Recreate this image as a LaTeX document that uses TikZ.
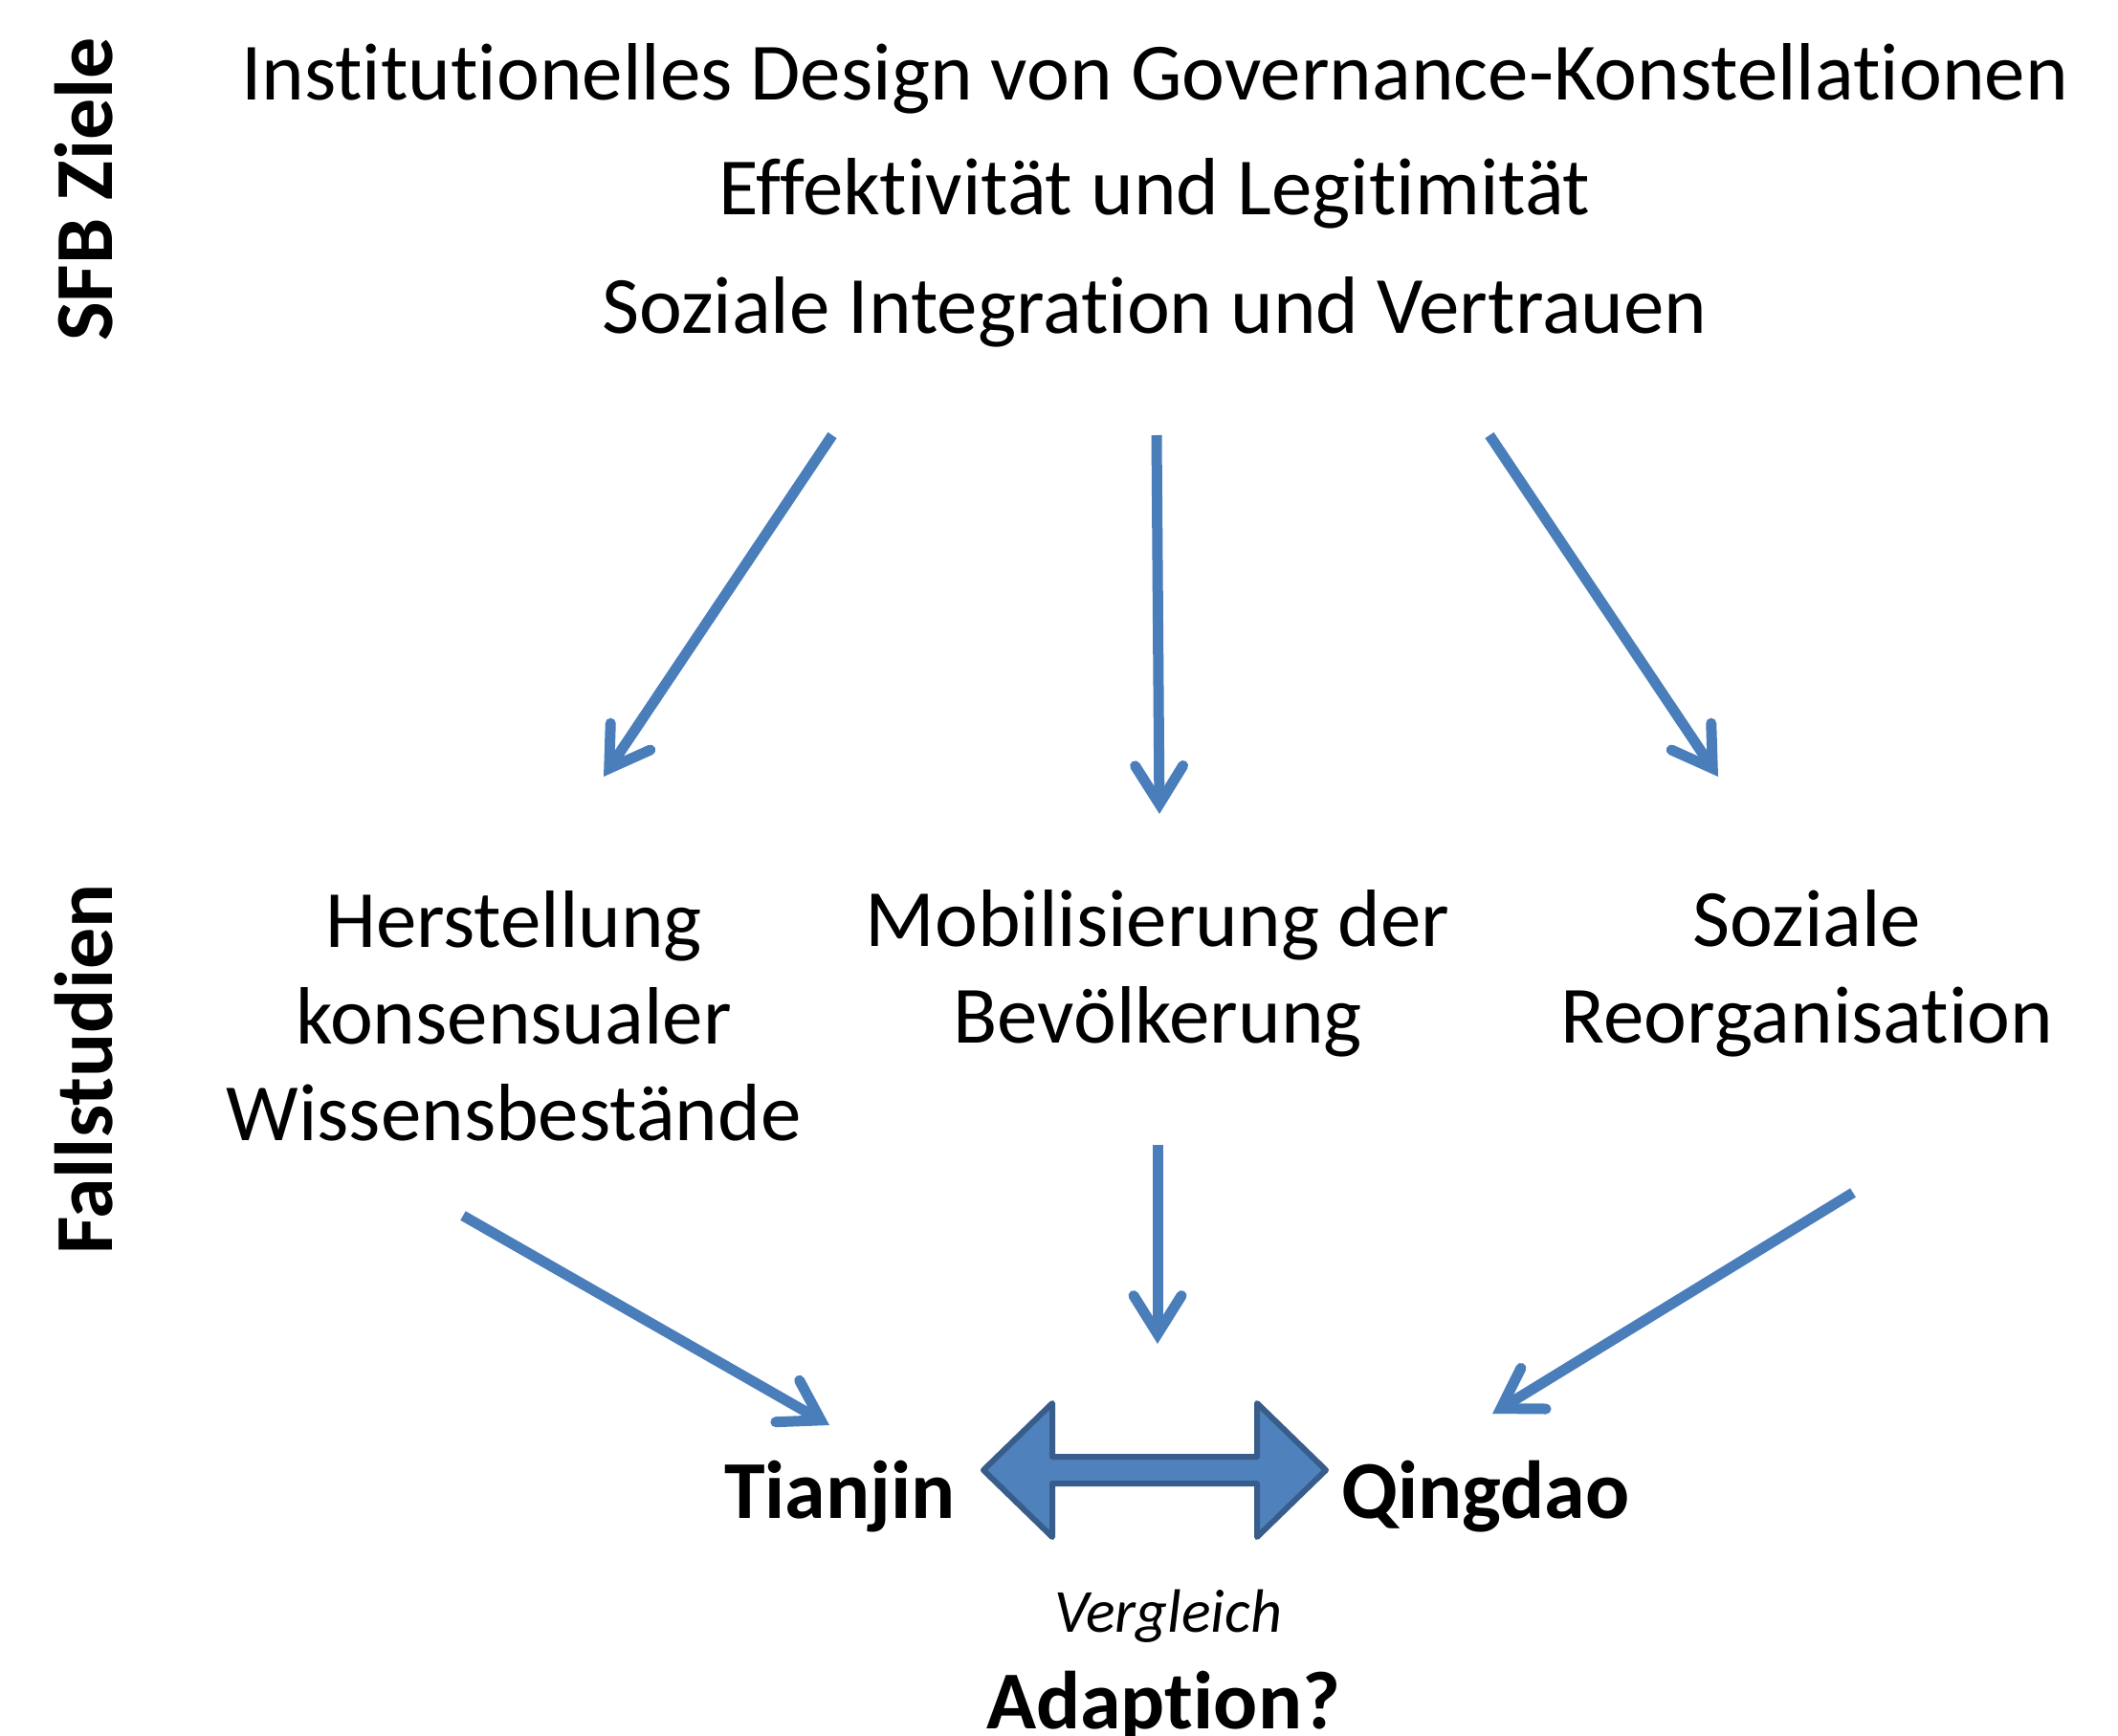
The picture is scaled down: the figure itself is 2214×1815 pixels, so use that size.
\documentclass[tikz,border=0pt]{standalone}
\usepackage{fontspec}
\setmainfont{Carlito}[Ligatures=NoCommon]
\usetikzlibrary{arrows.meta}
\definecolor{pfeil}{HTML}{4A7EBB}
\definecolor{fuell}{HTML}{4F81BD}
\definecolor{rand}{HTML}{385D8A}

\begin{document}
\begin{tikzpicture}[x=1pt,y=-1pt,
  txt/.style={font=\fontsize{85}{101}\selectfont, align=center},
  fett/.style={font=\fontsize{86}{100}\selectfont\bfseries},
  pf/.style={draw=pfeil, line width=11pt,
    -{Straight Barb[length=40pt,width=50pt,line cap=round,line join=miter]}}]
\useasboundingbox (0,0) rectangle (2214,1815);

% Seitenbeschriftung
\node[fett, rotate=90] (sfb) at (88,198) {SFB Ziele};
\node[fett, rotate=90] (fall) at (88,1118) {Fallstudien};

% SFB Ziele
\node[txt] (ziel1) at (1207,82) {Institutionelles Design von Governance-Konstellationen};
\node[txt] (ziel2) at (1207,202) {Effektivität und Legitimität};
\node[txt] (ziel3) at (1207,326) {Soziale Integration und Vertrauen};

% Fallstudien
\node[txt] (wissen) at (537,1062) {Herstellung\\konsensualer\\Wissensbestände};
\node[txt] (mobil) at (1210,1018) {Mobilisierung der\\Bevölkerung};
\node[txt] (reorg) at (1889,1018) {Soziale\\Reorganisation};

% Staedte
\node[fett] (tianjin) at (878,1565) {Tianjin};
\node[fett] (qingdao) at (1553,1565) {Qingdao};
\node[font=\fontsize{64}{68}\selectfont\itshape] (vergl) at (1221,1690) {Vergleich};
\node[fett] (adapt) at (1216,1784) {Adaption?};

% Pfeile
\coordinate (o1) at (870,455);  \coordinate (u1) at (631,812);
\coordinate (o2) at (1209,455); \coordinate (u2) at (1212,851);
\coordinate (o3) at (1557,455); \coordinate (u3) at (1796,812);
\coordinate (o4) at (484,1271); \coordinate (u4) at (867,1490);
\coordinate (o5) at (1210,1197); \coordinate (u5) at (1210,1405);
\coordinate (o6) at (1937,1247); \coordinate (u6) at (1560,1478);
\foreach \i in {1,...,6} \draw[pf] (o\i) -- (u\i);

% Doppelpfeil
\coordinate (mitte) at (1207,1537);
\draw[fill=fuell, draw=rand, line width=6pt, line join=round]
  (mitte) ++(-179,0) -- ++(72,-70) -- ++(0,56) -- ++(214,0) -- ++(0,-56)
  -- ++(72,70) -- ++(-72,70) -- ++(0,-56) -- ++(-214,0) -- ++(0,56) -- cycle;
\end{tikzpicture}
\end{document}
